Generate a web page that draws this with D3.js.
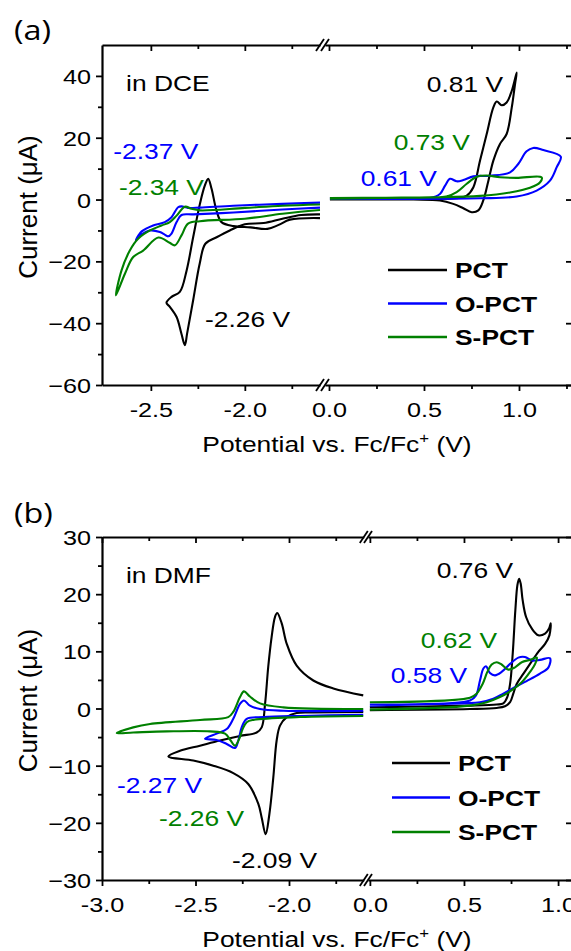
<!DOCTYPE html>
<html>
<head>
<meta charset="utf-8">
<script src="https://cdn.jsdelivr.net/npm/d3@7"></script>
<style>
  body { margin: 0; background: #fff; }
  svg text { font-family: "Liberation Sans", Arial, sans-serif; fill: #000; }
</style>
</head>
<body>
<div id="chart"></div>
<script>
// series
const names = ['PCT', 'O-PCT', 'S-PCT'];
const colors = ['#000000', '#0000ff', '#008000'];

// (a) in DCE, [E (V), I (uA)] in sweep order; Neg = reduction side, Pos = oxidation side
const dcePctNeg = [[-1.60,-4.8],[-1.70,-5.0],[-1.80,-6.2],[-1.90,-7.6],[-2.00,-8.0],[-2.08,-10.0],[-2.15,-12.2],[-2.21,-14.3],
  [-2.24,-20.7],[-2.275,-32.6],[-2.307,-43.3],[-2.319,-47.1],[-2.337,-43.5],[-2.363,-38.0],[-2.399,-34.7],[-2.417,-33.4],
  [-2.390,-31.5],[-2.346,-29.9],[-2.310,-23.0],[-2.275,-12.2],[-2.239,-1.4],[-2.213,4.5],[-2.195,6.7],[-2.177,3.5],
  [-2.151,-3.5],[-2.124,-7.3],[-2.06,-8.6],[-1.97,-9.0],[-1.88,-9.5],[-1.82,-8.2],[-1.76,-6.5],[-1.60,-6.0]];
const dcePctPos = [[0.005,0.4],[0.30,0.4],[0.53,0.4],[0.67,0.4],[0.725,1.3],[0.76,4.0],[0.795,12.6],[0.83,21.2],
  [0.865,29.8],[0.883,31.7],[0.909,30.5],[0.935,31.4],[0.962,35.2],[0.988,41.1],[0.979,37.3],[0.962,29.8],[0.935,21.2],
  [0.90,18.0],[0.865,12.6],[0.839,6.1],[0.812,-0.3],[0.786,-3.5],[0.751,-4.1],[0.707,-2.8],[0.654,-1.4],[0.584,-0.3],
  [0.444,0.0],[0.005,0.0]];
const dceOpctNeg = [[-1.60,-2.6],[-1.80,-3.2],[-2.06,-4.2],[-2.275,-4.8],[-2.337,-5.0],[-2.363,-7.3],[-2.39,-11.0],
  [-2.408,-11.9],[-2.43,-11.2],[-2.452,-10.5],[-2.505,-10.0],[-2.549,-11.3],[-2.58,-13.2],[-2.565,-11.5],[-2.549,-10.3],
  [-2.488,-8.4],[-2.426,-7.3],[-2.39,-5.7],[-2.355,-2.5],[-2.337,-2.2],[-2.302,-2.7],[-2.239,-2.6],[-2.062,-2.0],
  [-1.80,-1.4],[-1.60,-1.0]];
const dceOpctPos = [[0.005,0.5],[0.30,0.5],[0.532,0.5],[0.584,1.8],[0.611,4.5],[0.637,6.7],[0.672,5.9],[0.707,6.3],
  [0.76,7.5],[0.847,7.7],[0.953,8.8],[0.996,11.5],[1.04,15.6],[1.075,16.7],[1.128,16.0],[1.22,13.9],[1.198,10.4],
  [1.163,6.1],[1.093,2.9],[0.988,1.0],[0.795,0.4],[0.005,0.3]];
const dceSpctNeg = [[-1.60,-3.4],[-1.80,-4.6],[-2.00,-6.2],[-2.239,-7.0],[-2.302,-7.8],[-2.337,-11.6],[-2.372,-14.8],
  [-2.40,-14.0],[-2.46,-12.3],[-2.541,-16.5],[-2.594,-18.6],[-2.638,-24.0],[-2.686,-31.0],[-2.656,-22.9],[-2.612,-16.5],
  [-2.568,-12.7],[-2.505,-10.0],[-2.443,-8.4],[-2.399,-7.3],[-2.363,-5.2],[-2.319,-2.3],[-2.284,-3.0],[-2.239,-3.5],
  [-2.00,-2.7],[-1.80,-2.0],[-1.60,-1.6]];
const dceSpctPos = [[0.005,0.5],[0.30,0.6],[0.532,0.7],[0.619,1.0],[0.672,2.4],[0.725,5.1],[0.777,7.4],[0.83,7.8],
  [0.90,7.2],[0.988,7.0],[1.119,7.2],[1.111,5.6],[1.058,3.8],[0.953,2.3],[0.795,1.2],[0.532,0.7],[0.005,0.3]];

// (b) in DMF
const dmfPctNeg = [[-1.603,-0.6],[-1.87,-0.7],[-1.959,-0.8],[-2.012,-1.5],[-2.048,-3.0],[-2.066,-5.6],[-2.084,-12.1],
  [-2.105,-18.5],[-2.125,-22.0],[-2.146,-19.1],[-2.164,-16.7],[-2.218,-13.2],[-2.298,-11.3],[-2.405,-10.0],[-2.512,-9.1],
  [-2.645,-8.4],[-2.583,-7.4],[-2.476,-6.5],[-2.369,-5.6],[-2.262,-4.8],[-2.173,-4.2],[-2.146,-3.3],[-2.128,0.8],
  [-2.111,7.3],[-2.093,12.5],[-2.075,16.0],[-2.063,16.7],[-2.039,14.9],[-2.012,11.3],[-1.959,7.5],[-1.87,4.9],
  [-1.763,3.5],[-1.603,2.3]];
const dmfPctPos = [[0.0,0.2],[0.532,0.5],[0.674,0.7],[0.709,0.9],[0.730,2.0],[0.745,4.3],[0.759,9.6],[0.773,17.2],
  [0.784,21.6],[0.793,22.7],[0.801,21.9],[0.812,18.9],[0.830,16.0],[0.860,14.0],[0.895,12.8],[0.931,13.1],[0.952,14.0],
  [0.961,14.9],[0.954,12.8],[0.931,11.3],[0.895,9.9],[0.851,7.8],[0.816,6.1],[0.780,4.3],[0.762,2.6],[0.745,1.1],
  [0.718,0.4],[0.674,0.1],[0.532,-0.1],[0.0,-0.3]];
const dmfOpctNeg = [[-1.603,-1.1],[-1.941,-1.3],[-2.137,-1.5],[-2.226,-1.8],[-2.253,-3.3],[-2.271,-5.6],[-2.289,-6.9],
  [-2.333,-6.2],[-2.387,-5.5],[-2.449,-5.3],[-2.387,-4.4],[-2.333,-3.6],[-2.298,-1.8],[-2.262,0.8],[-2.241,1.4],
  [-2.209,0.5],[-2.155,-0.1],[-2.03,-0.4],[-1.603,-0.4]];
const dmfOpctPos = [[0.0,0.7],[0.532,1.4],[0.564,2.3],[0.585,4.9],[0.603,7.0],[0.617,7.4],[0.638,6.2],[0.665,5.8],
  [0.70,6.4],[0.745,7.8],[0.789,8.9],[0.824,9.0],[0.86,8.4],[0.904,8.5],[0.957,8.8],[0.949,7.2],[0.904,6.1],[0.833,4.8],
  [0.78,3.9],[0.709,2.6],[0.656,1.7],[0.585,1.1],[0.355,0.8],[0.0,0.5]];
const dmfSpctNeg = [[-1.603,-1.3],[-1.941,-1.5],[-2.191,-2.0],[-2.226,-2.4],[-2.248,-3.6],[-2.266,-5.3],[-2.289,-6.5],
  [-2.312,-5.6],[-2.342,-4.4],[-2.422,-4.0],[-2.654,-4.0],[-2.833,-4.2],[-2.921,-4.3],[-2.833,-3.3],[-2.743,-2.7],
  [-2.476,-2.0],[-2.325,-1.5],[-2.298,-0.6],[-2.262,2.0],[-2.241,3.0],[-2.209,2.1],[-2.155,0.9],[-2.03,0.2],[-1.603,-0.1]];
const dmfSpctPos = [[0.0,1.1],[0.532,1.9],[0.567,2.6],[0.599,4.3],[0.624,6.4],[0.647,7.7],[0.674,8.1],[0.70,7.7],
  [0.736,6.8],[0.771,7.2],[0.807,8.1],[0.851,8.5],[0.887,8.9],[0.878,7.8],[0.851,6.4],[0.807,4.6],[0.754,3.2],
  [0.691,2.0],[0.621,1.1],[0.532,0.5],[0.0,-0.2]];

// ticks
const dceYTicks = [-60, -40, -20, 0, 20, 40];
const dceYMinor = [-50, -30, -10, 10, 30];
const dmfYTicks = [-30, -20, -10, 0, 10, 20, 30];
const dmfYMinor = [-25, -15, -5, 5, 15, 25];
const dceXTicks = [[-2.5, -2.0], [0.0, 0.5, 1.0]];
const dceXMinor = [[-2.25, -1.75], [0.25, 0.75, 1.25]];
const dmfXTicks = [[-3.0, -2.5, -2.0], [0.0, 0.5, 1.0]];
const dmfXMinor = [[-2.75, -2.25, -1.75], [0.25, 0.75]];

// peak labels: [text, series, side (0 neg / 1 pos), E, I, anchor]
const dceNotes = [['-2.37 V', 1, 0, -2.70, 13.2, 'start'], ['-2.34 V', 2, 0, -2.67, 1.6, 'start'],
  ['-2.26 V', 0, 0, -2.212, -41.3, 'start'], ['0.81 V', 0, 1, 0.916, 34.8, 'end'],
  ['0.73 V', 2, 1, 0.742, 16.1, 'end'], ['0.61 V', 1, 1, 0.568, 4.5, 'end']];
const dmfNotes = [['-2.27 V', 1, 0, -2.92, -14.7, 'start'], ['-2.26 V', 2, 0, -2.695, -20.5, 'start'],
  ['-2.09 V', 0, 0, -2.305, -27.9, 'start'], ['0.76 V', 0, 1, 0.761, 22.8, 'end'],
  ['0.62 V', 2, 1, 0.676, 10.5, 'end'], ['0.58 V', 1, 1, 0.516, 4.4, 'end']];

const W = 571, H = 951, SX = 1.2;

const svg = d3.select('#chart').append('svg')
  .attr('width', W).attr('height', H);
svg.append('rect').attr('width', W).attr('height', H).attr('fill', '#fff');

function stext(parent, x, y, str, size, anchor, color, weight) {
  return parent.append('text')
    .attr('transform', `translate(${x},${y}) scale(${SX},1)`)
    .attr('text-anchor', anchor || 'start')
    .attr('font-size', size)
    .attr('font-weight', weight || 'normal')
    .style('fill', color || '#000')
    .text(str);
}

function drawPanel(p) {
  const g = svg.append('g');
  const y = d3.scaleLinear().domain(p.yDomain).range([p.bottom, p.top]);
  const xs = [
    d3.scaleLinear().domain(p.negDomain).range(p.negRange),
    d3.scaleLinear().domain(p.posDomain).range(p.posRange)
  ];

  // curves
  p.curves.forEach((c, i) => {
    c.forEach((pts, k) => {
      const line = d3.line()
        .x(d => xs[k](d[0]))
        .y(d => y(d[1]))
        .curve(d3.curveCatmullRom.alpha(0.5));
      g.append('path').datum(pts)
        .attr('d', line)
        .attr('fill', 'none')
        .attr('stroke', colors[i])
        .attr('stroke-width', 2.1)
        .attr('stroke-linejoin', 'round');
    });
  });

  // x axes, broken
  xs.forEach((sx, k) => {
    const bot = g.append('g').attr('transform', `translate(0,${p.bottom})`)
      .call(d3.axisBottom(sx).tickValues(p.xTicks[k]).tickSize(6).tickSizeOuter(0)
        .tickFormat(d => d.toFixed(1)));
    bot.selectAll('text')
      .attr('y', 32).attr('dy', null)
      .attr('font-size', 21)
      .attr('transform', `scale(${SX},1)`);
    g.append('g').attr('transform', `translate(0,${p.bottom})`)
      .call(d3.axisBottom(sx).tickValues(p.xMinor[k]).tickSize(4).tickFormat(''))
      .call(a => a.select('.domain').remove());
    g.append('g').attr('transform', `translate(0,${p.top})`)
      .call(d3.axisTop(sx).tickValues(p.xTicks[k]).tickSize(-6).tickSizeOuter(0).tickFormat(''));
    g.append('g').attr('transform', `translate(0,${p.top})`)
      .call(d3.axisTop(sx).tickValues(p.xMinor[k]).tickSize(-4).tickFormat(''))
      .call(a => a.select('.domain').remove());
  });

  // y axes
  const left = g.append('g').attr('transform', `translate(${p.negRange[0]},0)`)
    .call(d3.axisLeft(y).tickValues(p.yTicks).tickSize(6).tickSizeOuter(0));
  left.selectAll('text')
    .attr('x', -11 / SX).attr('dy', '0.36em')
    .attr('font-size', 21)
    .attr('transform', `scale(${SX},1)`);
  g.append('g').attr('transform', `translate(${p.negRange[0]},0)`)
    .call(d3.axisLeft(y).tickValues(p.yMinor).tickSize(4).tickFormat(''))
    .call(a => a.select('.domain').remove());
  g.append('g').attr('transform', `translate(${p.posRange[1]},0)`)
    .call(d3.axisRight(y).tickValues(p.yTicks).tickSize(-6).tickSizeOuter(0).tickFormat(''));

  g.selectAll('.domain').attr('stroke-width', 2.2);
  g.selectAll('.tick line').attr('stroke-width', 1.8);

  // break marks
  [p.top, p.bottom].forEach(yy => {
    [p.negRange[1], p.posRange[0]].forEach(xx => {
      g.append('line')
        .attr('x1', xx - 4).attr('y1', yy + 6)
        .attr('x2', xx + 4).attr('y2', yy - 6)
        .attr('stroke', '#000').attr('stroke-width', 1.8);
    });
  });

  // panel letter, solvent
  stext(g, 14, p.letterY, p.letter, 27).style('font-family', '"Open Sans", sans-serif');
  stext(g, xs[0](p.solventAt[0]), y(p.solventAt[1]), p.solvent, 22);

  // peak labels
  p.notes.forEach(n => {
    stext(g, xs[n[2]](n[3]), y(n[4]), n[0], 22, n[5], colors[n[1]]);
  });

  // legend
  names.forEach((nm, i) => {
    const ly = p.legend.y + i * p.legend.dy;
    g.append('line')
      .attr('x1', p.legend.x1).attr('x2', p.legend.x2)
      .attr('y1', ly).attr('y2', ly)
      .attr('stroke', colors[i]).attr('stroke-width', 2.4);
    stext(g, p.legend.x2 + 8, ly + 8, nm, 22, 'start', '#000', 'bold');
  });

  // axis titles
  const xt = g.append('text')
    .attr('transform', `translate(${(p.negRange[0] + p.posRange[1]) / 2},${p.bottom + 67}) scale(${SX},1)`)
    .attr('text-anchor', 'middle')
    .attr('font-size', 22);
  xt.append('tspan').text('Potential vs. Fc/Fc');
  xt.append('tspan').attr('font-size', 14).attr('dy', -9).text('+');
  xt.append('tspan').attr('dy', 9).text(' (V)');

  g.append('text')
    .attr('transform', `translate(37,${(p.top + p.bottom) / 2 - 8}) rotate(-90)`)
    .attr('text-anchor', 'middle')
    .attr('font-size', 26)
    .text('Current (μA)');
}

drawPanel({
  letter: '(a)', letterY: 40,
  solvent: 'in DCE', solventAt: [-2.632, 35.2],
  top: 45, bottom: 385,
  yDomain: [-60, 50], yTicks: dceYTicks, yMinor: dceYMinor,
  negDomain: [-2.76, -1.6], negRange: [102, 320],
  posDomain: [-0.021, 1.279], posRange: [325, 572],
  xTicks: dceXTicks, xMinor: dceXMinor,
  curves: [[dcePctNeg, dcePctPos], [dceOpctNeg, dceOpctPos], [dceSpctNeg, dceSpctPos]],
  notes: dceNotes,
  legend: { x1: 388, x2: 447, y: 270, dy: 33.5 }
});

drawPanel({
  letter: '(b)', letterY: 523,
  solvent: 'in DMF', solventAt: [-2.872, 21.9],
  top: 537, bottom: 880,
  yDomain: [-30, 30], yTicks: dmfYTicks, yMinor: dmfYMinor,
  negDomain: [-3.0, -1.6], negRange: [102, 363.8],
  posDomain: [-0.01, 1.074], posRange: [368, 572],
  xTicks: dmfXTicks, xMinor: dmfXMinor,
  curves: [[dmfPctNeg, dmfPctPos], [dmfOpctNeg, dmfOpctPos], [dmfSpctNeg, dmfSpctPos]],
  notes: dmfNotes,
  legend: { x1: 392, x2: 450, y: 763, dy: 34.5 }
});
</script>
</body>
</html>
